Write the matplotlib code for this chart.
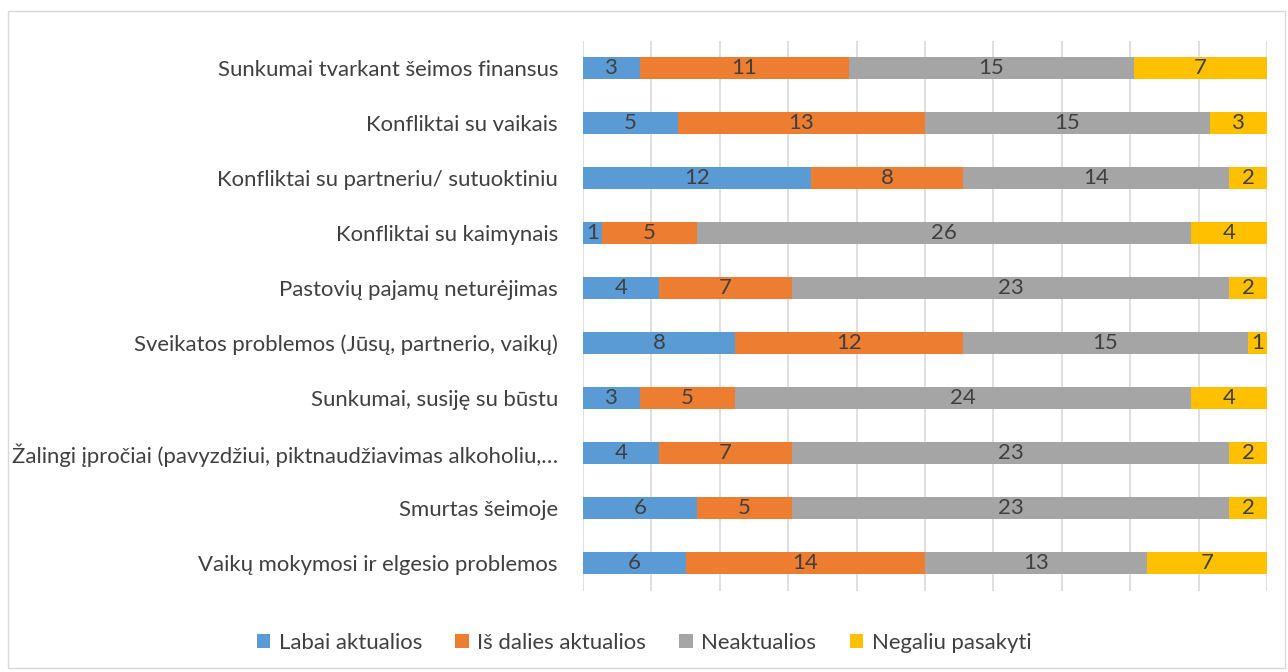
import matplotlib
matplotlib.use("Agg")
import matplotlib.pyplot as plt
from matplotlib.patches import Rectangle
import numpy as np

categories = [
    "Sunkumai tvarkant šeimos finansus",
    "Konfliktai su vaikais",
    "Konfliktai su partneriu/ sutuoktiniu",
    "Konfliktai su kaimynais",
    "Pastovių pajamų neturėjimas",
    "Sveikatos problemos (Jūsų, partnerio, vaikų)",
    "Sunkumai, susiję su būstu",
    "Žalingi įpročiai (pavyzdžiui, piktnaudžiavimas alkoholiu,…",
    "Smurtas šeimoje",
    "Vaikų mokymosi ir elgesio problemos",
]
series_names = ["Labai aktualios", "Iš dalies aktualios", "Neaktualios", "Negaliu pasakyti"]
labai = [3, 5, 12, 1, 4, 8, 3, 4, 6, 6]
is_dalies = [11, 13, 8, 5, 7, 12, 5, 7, 5, 14]
neaktualios = [15, 15, 14, 26, 23, 15, 24, 23, 23, 13]
negaliu = [7, 3, 2, 4, 2, 1, 4, 2, 2, 7]
colors = ["#5B9BD5", "#ED7D31", "#A5A5A5", "#FFC000"]

plt.rcParams['font.family'] = ['Lato', 'DejaVu Sans']
txt = "#404040"
fs = 15.9

fig = plt.figure(figsize=(12.88, 6.72), dpi=100)
ax = fig.add_axes([583/1288, 1-590.5/672, (1267-583)/1288, (590.5-40.5)/672])

data = np.array([labai, is_dalies, neaktualios, negaliu], dtype=float)
totals = data.sum(axis=0)
frac = data / totals
y = np.arange(len(categories))
left = np.zeros(len(categories))
for i, name in enumerate(series_names):
    ax.barh(y, frac[i], left=left, height=0.4, color=colors[i], label=name, zorder=3)
    for j in range(len(categories)):
        ax.text(left[j] + frac[i][j]/2, y[j], f"{int(data[i][j])}", ha='center', va='center',
                fontsize=fs, color=txt, zorder=4)
    left += frac[i]

ax.set_xlim(0, 1)
ax.set_ylim(len(categories)-0.5, -0.5)
ax.set_xticks(np.linspace(0, 1, 11))
ax.set_xticklabels([])
ax.tick_params(axis='x', length=0)
ax.grid(axis='x', color='#D9D9D9', linewidth=1.2, zorder=0)
ax.set_yticks(y)
ax.set_yticklabels(categories, fontsize=fs, color=txt)
ax.tick_params(axis='y', length=0, pad=18)
for s in ax.spines.values():
    s.set_visible(False)

leg = fig.legend(loc='center', bbox_to_anchor=(0.5, 1-643/672), ncol=4, frameon=False,
                 fontsize=fs, handlelength=0.6, handleheight=0.6, columnspacing=1.5,
                 handletextpad=0.4)
for t in leg.get_texts():
    t.set_color(txt)

fig.patches.append(Rectangle((8/1288, 1-668/672), (1285-8)/1288, (668-11)/672,
                             transform=fig.transFigure, fill=False, edgecolor='#D9D9D9', linewidth=1))

fig.savefig("out.png", dpi=100)
